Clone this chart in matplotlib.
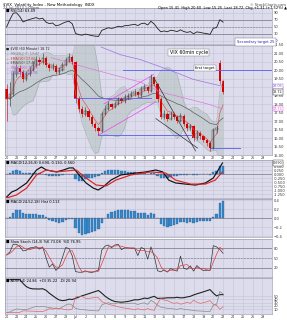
import numpy as np
import pandas as pd
import matplotlib.pyplot as plt

# 60 minute VIX bars (3 bars per trading day)
opens = [18.90, 18.31, 18.60, 19.76, 20.17, 19.93, 19.47, 19.76, 20.05, 20.34,
         20.63, 20.51, 20.75, 20.34, 20.17, 20.28, 19.93, 20.05, 20.34, 20.63,
         20.80, 20.51, 18.31, 17.73, 17.44, 17.61, 17.27, 16.86, 16.57, 16.40,
         17.44, 17.73, 18.02, 17.85, 18.02, 18.31, 18.19, 18.43, 18.48, 18.60,
         18.72, 18.54, 18.89, 19.01, 18.77, 19.59, 19.18, 18.31, 17.27, 17.44,
         17.15, 17.44, 17.27, 17.03, 17.32, 16.86, 16.57, 16.69, 15.99, 16.28,
         16.11, 15.87, 15.70, 15.41, 16.45, 20.45, 19.35]
closes = [18.31, 18.60, 19.76, 20.17, 19.93, 19.47, 19.76, 20.05, 20.34, 20.63,
          20.51, 20.75, 20.34, 20.17, 20.28, 19.93, 20.05, 20.34, 20.63, 20.80,
          20.51, 18.31, 17.73, 17.44, 17.61, 17.27, 16.86, 16.57, 16.40, 17.44,
          17.73, 18.02, 17.85, 18.02, 18.31, 18.19, 18.43, 18.48, 18.60, 18.72,
          18.54, 18.89, 19.01, 18.77, 19.59, 19.18, 18.31, 17.27, 17.44, 17.15,
          17.44, 17.27, 17.03, 17.32, 16.86, 16.57, 16.69, 15.99, 16.28, 16.11,
          15.87, 15.70, 15.41, 16.45, 16.57, 19.35, 18.72]
highs = [19.18, 19.30, 19.95, 20.40, 20.30, 20.05, 19.95, 20.25, 20.55, 20.85,
         20.80, 21.00, 20.85, 20.45, 20.45, 20.35, 20.20, 20.50, 20.80, 21.05,
         20.90, 20.55, 18.50, 17.90, 17.85, 17.70, 17.35, 16.95, 16.70, 17.60,
         17.95, 18.20, 18.10, 18.20, 18.45, 18.40, 18.60, 18.65, 18.80, 18.90,
         18.80, 19.05, 19.20, 19.10, 19.80, 19.65, 19.25, 18.40, 17.65, 17.55,
         17.60, 17.55, 17.35, 17.50, 17.40, 16.95, 16.85, 16.75, 16.45, 16.40,
         16.20, 15.95, 15.80, 16.60, 16.80, 20.60, 19.45]
lows = [17.03, 17.90, 18.50, 19.60, 19.70, 19.30, 19.35, 19.65, 19.95, 20.20,
        20.30, 20.40, 20.20, 19.95, 20.00, 19.80, 19.80, 19.95, 20.25, 20.50,
        20.35, 18.10, 17.55, 17.25, 17.30, 17.05, 16.70, 16.40, 16.20, 16.35,
        17.35, 17.65, 17.70, 17.75, 17.95, 18.05, 18.10, 18.30, 18.40, 18.50,
        18.40, 18.45, 18.80, 18.65, 18.70, 19.05, 18.15, 17.10, 17.15, 17.00,
        17.05, 17.10, 16.90, 16.95, 16.70, 16.40, 16.45, 15.85, 15.90, 15.95,
        15.75, 15.55, 15.25, 15.35, 16.30, 19.20, 18.60]

day_labels = ['20', '21', '24', '25', '26', '27', '28', 'Jul', '2', '3', '5', '8', '9',
              '10', '11', '12', '15', '16', '17', '18', '19', '22', '23', '24', '25',
              '26', '29']

# long moving averages (only partly visible), read as bar / price pairs
ma200_bar = [28.8, 34.8, 40.9, 50.9, 56.9, 65.8]
ma200_val = [21.38, 20.92, 20.63, 19.93, 19.47, 19.06]
ma100_bar = [13.6, 28.8, 40.9, 46.9, 53.0, 61.2, 65.8]
ma100_val = [20.75, 19.93, 19.30, 18.72, 18.43, 18.02, 17.73]

# MACD lines (bar position, value)
macd_bar = [0, 1.5, 3.0, 6.1, 9.1, 10.6, 12.1, 15.2, 17.3, 19.1, 20.3, 22.1, 24.2, 26.4,
            27.9, 29.4, 31.8, 34.8, 39.4, 42.4, 45.5, 47.6, 49.4, 51.5, 54.5, 57.6,
            60.6, 63.0, 64.5, 65.8]
macd_val = [-1.44, -1.13, -1.00, -0.56, 0.25, 0.44, 0.25, 0.13, 0.25, 0.38, 0.38, -0.06,
            -0.56, -0.88, -1.00, -0.81, -0.38, -0.06, 0.06, 0.13, 0.25, 0.13, -0.38,
            -0.56, -0.63, -0.69, -0.56, -0.25, 0.25, 0.69]
sig_bar = [0, 3.0, 6.1, 9.1, 12.1, 15.2, 18.2, 21.2, 24.2, 27.3, 30.3, 33.3, 37.9, 43.9,
           48.5, 51.5, 56.1, 60.6, 63.6, 65.8]
sig_val = [-1.50, -1.31, -0.88, -0.06, 0.25, 0.13, 0.19, 0.25, -0.25, -0.69, -0.75,
           -0.38, -0.06, 0.13, 0.06, -0.38, -0.63, -0.63, -0.38, 0.13]

# drawn lines on the chart
first_target = 20.05
blue_levels = [(20.05, 35.5, 80.9), (18.37, 20.6, 43.9), (16.16, 27.9, 56.1), (15.41, 62.1, 71.2)]
magenta_lines = [((27.9, 16.16), (45.5, 18.14)), ((29.7, 18.02), (44.8, 19.76))]
black_lines = [((44.8, 19.59), (57.6, 15.24)), ((45.5, 17.15), (58.2, 15.41))]

df = pd.DataFrame({'o': opens, 'h': highs, 'l': lows, 'c': closes})
x = np.arange(len(df))
c = df['c']

# indicators
ema_s = c.ewm(span=4, adjust=False).mean()
ema_m = c.ewm(span=21, adjust=False).mean()
bb_mid = c.rolling(9, min_periods=2).mean()
bb_sd = c.rolling(9, min_periods=2).std()
bb_up = bb_mid + 2 * bb_sd
bb_lo = bb_mid - 2 * bb_sd

d = c.diff().fillna(0)
gain = d.clip(lower=0).ewm(alpha=1 / 10, adjust=False).mean() + 0.02
loss = (-d.clip(upper=0)).ewm(alpha=1 / 10, adjust=False).mean() + 0.02
rsi = (100 * gain / (gain + loss)).to_numpy()

fast = c.ewm(span=5, adjust=False).mean() - c.ewm(span=11, adjust=False).mean()
hist = fast - fast.ewm(span=6, adjust=False).mean()
macd2 = c.ewm(span=8, adjust=False).mean() - c.ewm(span=17, adjust=False).mean()
hist2 = macd2 - macd2.ewm(span=6, adjust=False).mean()

ll = df['l'].rolling(6, min_periods=1).min()
hh = df['h'].rolling(6, min_periods=1).max()
stk = (c - ll) / (hh - ll) * 100
std_ = stk.rolling(3, min_periods=1).mean()

tr = pd.concat([df['h'] - df['l'], (df['h'] - c.shift()).abs(), (df['l'] - c.shift()).abs()], axis=1).max(axis=1)
upm = df['h'].diff()
dnm = -df['l'].diff()
pdm = np.where((upm > dnm) & (upm > 0), upm, 0.0)
ndm = np.where((dnm > upm) & (dnm > 0), dnm, 0.0)
atr = tr.ewm(alpha=1 / 6, adjust=False).mean()
pdi = 100 * pd.Series(pdm).ewm(alpha=1 / 6, adjust=False).mean() / atr
ndi = 100 * pd.Series(ndm).ewm(alpha=1 / 6, adjust=False).mean() / atr
dx = 100 * (pdi - ndi).abs() / (pdi + ndi)
adx = dx.ewm(alpha=1 / 6, adjust=False).mean()

BG = '#dcdcec'
GRID = '#c3c3d6'
xmax = 80.9

fig = plt.figure(figsize=(2.87, 3.2), dpi=100)

def panel(top, bottom):
    ax = fig.add_axes([5 / 287, 1 - bottom / 320, 267 / 287, (bottom - top) / 320])
    ax.set_facecolor(BG)
    ax.set_xlim(-0.5, xmax)
    ax.set_xticks(np.arange(len(day_labels)) * 3)
    ax.set_xticklabels([])
    ax.grid(True, color=GRID, lw=0.4)
    ax.set_axisbelow(True)
    ax.yaxis.tick_right()
    ax.tick_params(length=0, labelsize=2.6, pad=1, colors='#333333')
    for s in ax.spines.values():
        s.set_color('#8a8aa0')
        s.set_linewidth(0.4)
    return ax

def tag(ax, val, txt, col):
    ax.text(1.004, val, txt, transform=ax.get_yaxis_transform(), fontsize=2.4,
            va='center', ha='left', color=col,
            bbox=dict(facecolor='white', edgecolor=col, lw=0.3, pad=0.4))

# header
fig.text(0.01, 0.992, '$VIX  Volatility Index - New Methodology  INDX', fontsize=2.8, va='top')
fig.text(0.01, 0.982, '23-Jul-2013 1:00pm', fontsize=2.6, va='top', color='#444444')
fig.text(0.87, 0.992, '© StockCharts.com', fontsize=2.6, va='top', color='#444444')
fig.text(0.55, 0.982, 'Open 15.41  High 20.60  Low 15.25  Last 18.72  Chg +1.31 (+7.52%) ▲',
         fontsize=2.6, va='top')

# RSI panel
ax0 = panel(8, 44)
ax0.axhline(70, color='#777788', lw=0.5)
ax0.axhline(30, color='#777788', lw=0.5)
ax0.axhline(50, color='#777788', lw=0.4, ls='--')
ax0.plot(x, rsi, color='#202020', lw=0.6, zorder=4)
ax0.set_ylim(1, 104)
ax0.set_yticks([10, 30, 50, 70, 90])
ax0.text(0.005, 0.97, '■ RSI(14) %.2f' % rsi[-1], transform=ax0.transAxes, fontsize=2.6, va='top')
fig.text(237 / 287, 1 - 43 / 320, 'Secondary target 25', fontsize=2.6, color='#2222cc',
         bbox=dict(facecolor='white', edgecolor='#666666', lw=0.3, pad=1.2))

# price panel
ax1 = panel(45, 155)
ax1.fill_between(x, bb_lo, bb_up, color='#b6c2c2', alpha=0.6, lw=0)
ax1.plot(x, bb_up, color='#9aa6a6', lw=0.3)
ax1.plot(x, bb_lo, color='#9aa6a6', lw=0.3)
ax1.plot(x, ema_m, color='#555555', lw=0.45)
ax1.plot(x, ema_s, color='#e05050', lw=0.45)
ax1.plot(ma100_bar, ma100_val, color='#e070e0', lw=0.45)
ax1.plot(ma200_bar, ma200_val, color='#a070e0', lw=0.5)
for lvl, x0, x1 in blue_levels:
    ax1.plot([x0, x1], [lvl, lvl], color='#6a6af0', lw=0.7)
for (xa, ya), (xb, yb) in magenta_lines:
    ax1.plot([xa, xb], [ya, yb], color='#ee44ee', lw=0.5)
for (xa, ya), (xb, yb) in black_lines:
    ax1.plot([xa, xb], [ya, yb], color='#333333', lw=0.5)
down = (df['c'] < df['o']).to_numpy()
ax1.vlines(x, df['l'], df['h'], color=np.where(down, '#cc0000', '#333333'), lw=0.4)
body_lo = np.minimum(df['o'], df['c']).to_numpy()
body_h = (df['o'] - df['c']).abs().clip(lower=0.03).to_numpy()
ax1.bar(x[down], body_h[down], bottom=body_lo[down], width=0.7, color='#dd0000', lw=0)
ax1.bar(x[~down], body_h[~down], bottom=body_lo[~down], width=0.7, facecolor='none',
        edgecolor='#333333', lw=0.3)
ax1.set_ylim(15.0, 21.5)
ax1.set_yticks(np.arange(15.0, 21.51, 0.5))
ax1.set_yticklabels(['%.2f' % v for v in np.arange(15.0, 21.51, 0.5)])
ax1.set_xticklabels(day_labels)
ax1.tick_params(axis='x', labelsize=2.4, pad=0.8)
tag(ax1, ma200_val[-1], '%.2f' % ma200_val[-1], '#9060dd')
tag(ax1, closes[-1], '%.2f' % closes[-1], '#222222')
tag(ax1, ma100_val[-1], '%.2f' % ma100_val[-1], '#dd55dd')
ax1.text(55.5, 21.05, 'VIX 60min cycle', fontsize=3.4, va='center', ha='center',
         bbox=dict(facecolor='white', edgecolor='#777777', lw=0.3, pad=1.0))
ax1.text(60.5, first_target + 0.1, 'first target', fontsize=2.6, va='center', ha='center',
         bbox=dict(facecolor='white', edgecolor='#777777', lw=0.3, pad=0.8))
legend_lines = [('■ $VIX (60 Minute) 18.72', '#222222'),
                ('— BB(20,2.0) 17.47 ', '#778888'),
                ('— EMA(10) 17.66', '#dd3333'),
                ('— EMA(50) 17.45', '#444444'),
                ('— EMA(100) 17.73', '#dd55dd'),
                ('— EMA(200) 19.06', '#9060dd')]
for i, (t, col) in enumerate(legend_lines):
    ax1.text(0.005, 0.985 - i * 0.045, t, transform=ax1.transAxes, fontsize=2.4,
             va='top', color=col)

# MACD panel
ax2 = panel(160, 198)
ax2.bar(x, hist, width=0.7, color='#3388cc', edgecolor='#225588', lw=0.2)
ax2.axhline(0, color='#666677', lw=0.4)
ax2.plot(macd_bar, macd_val, color='#111111', lw=0.85, zorder=5)
ax2.plot(sig_bar, sig_val, color='#e02020', lw=0.85, zorder=5)
ax2.set_ylim(-1.5, 0.875)
ax2.set_yticks(np.arange(-1.25, 0.76, 0.25))
ax2.set_yticklabels(['%.3f' % v for v in np.arange(-1.25, 0.76, 0.25)])
tag(ax2, macd_val[-1], '%.3f' % macd_val[-1], '#333333')
ax2.text(0.005, 0.97, '■ MACD(12,26,9) 0.690, 0.130, 0.560', transform=ax2.transAxes,
         fontsize=2.6, va='top')

# second histogram panel
ax3 = panel(199, 237)
ax3.bar(x, hist2, width=0.7, color='#3388cc', edgecolor='#225588', lw=0.2)
ax3.axhline(0, color='#666677', lw=0.4)
ax3.text(0.005, 0.97, '■ MACD(24,52,18) Hist 0.113', transform=ax3.transAxes,
         fontsize=2.6, va='top')

# stochastics panel
ax4 = panel(239, 277)
ax4.axhline(80, color='#777788', lw=0.5)
ax4.axhline(20, color='#777788', lw=0.5)
ax4.axhline(50, color='#777788', lw=0.4, ls='--')
ax4.plot(x, stk, color='#333333', lw=0.5)
ax4.plot(x, std_, color='#e04040', lw=0.5)
ax4.set_ylim(-10, 110)
ax4.set_yticks([20, 50, 80])
ax4.text(0.005, 0.97, '■ Slow Stoch (14,3) %K 73.08  %D 76.95', transform=ax4.transAxes,
         fontsize=2.6, va='top')

# ADX panel
ax5 = panel(278, 314)
ax5.plot(x, adx, color='#222222', lw=0.8)
ax5.plot(x, pdi, color='#888888', lw=0.5)
ax5.plot(x, ndi, color='#dd6666', lw=0.5)
ax5.set_yticks([10, 20, 30, 40, 50])
ax5.set_xticklabels(day_labels)
ax5.tick_params(axis='x', labelsize=2.4, pad=0.8)
ax5.text(0.005, 0.97, '■ ADX(14) 24.86  +DI 35.22  -DI 20.94', transform=ax5.transAxes,
         fontsize=2.6, va='top')

fig.savefig('out.png', dpi=100, facecolor='white')
